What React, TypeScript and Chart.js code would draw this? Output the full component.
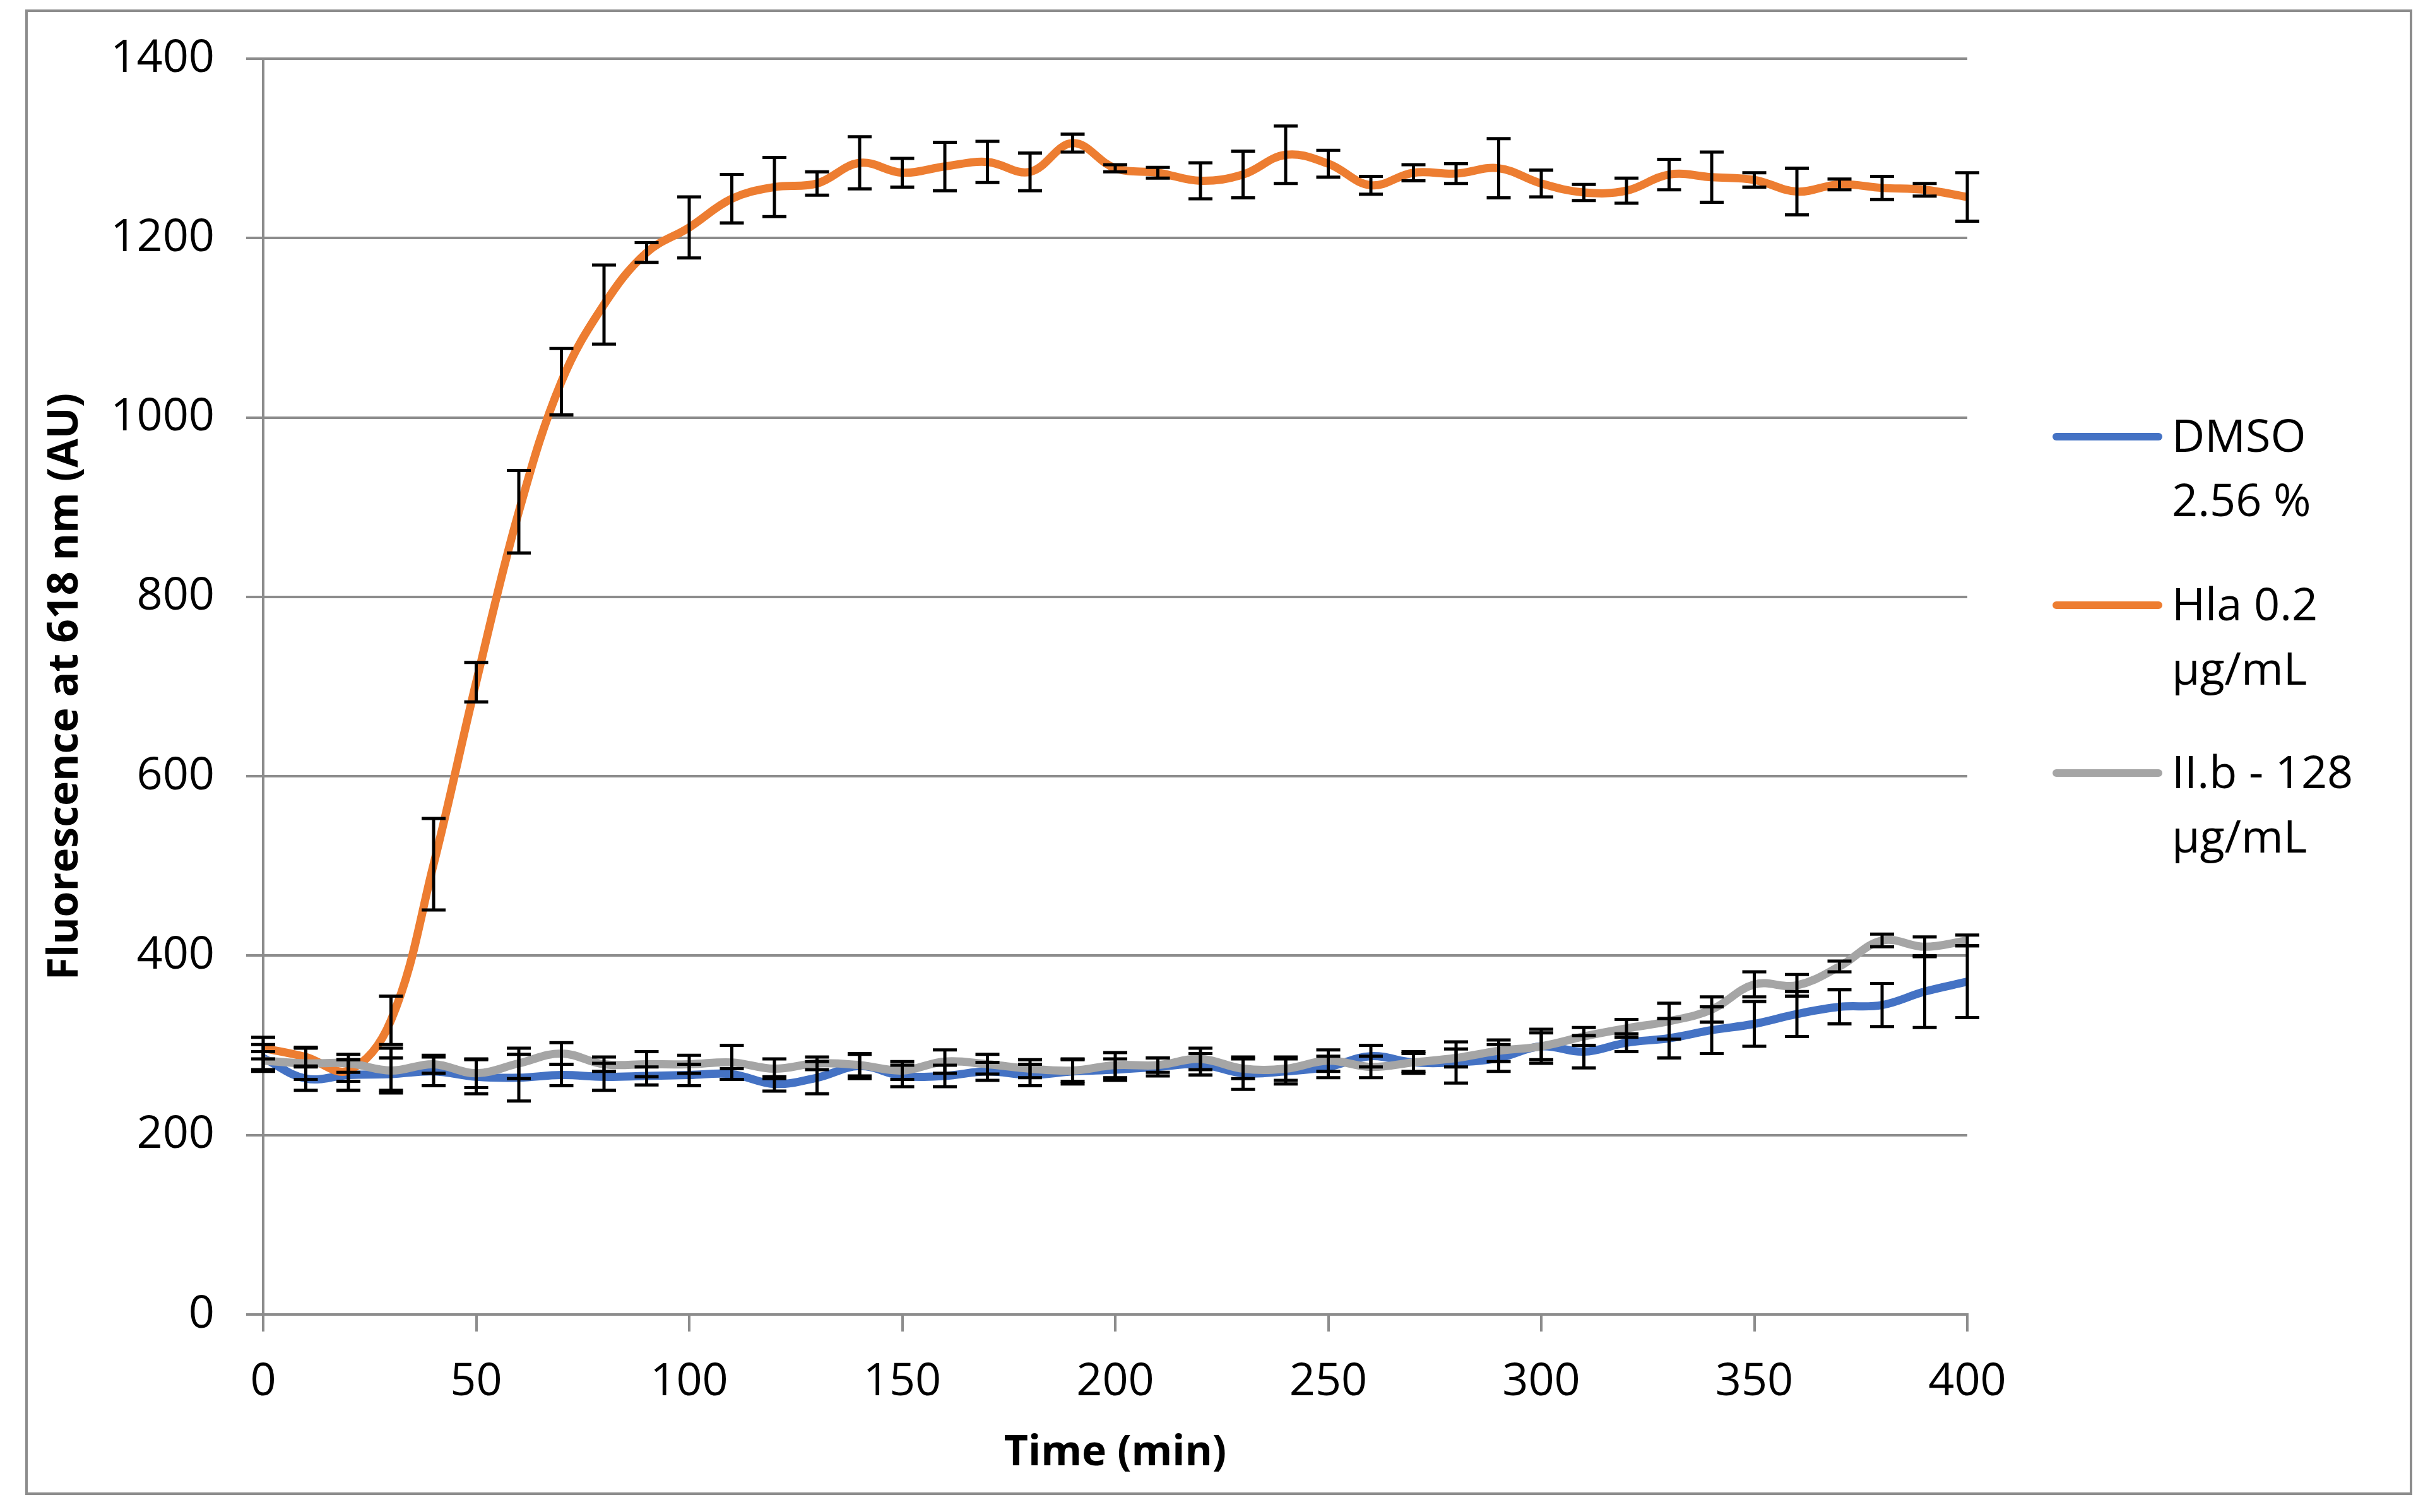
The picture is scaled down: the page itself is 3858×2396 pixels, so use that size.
import React, { useEffect, useRef } from "react";
import { Chart, registerables } from "chart.js";

Chart.register(...registerables);

const TIME_MIN = [0, 10, 20, 30, 40, 50, 60, 70, 80, 90, 100, 110, 120, 130, 140, 150, 160, 170, 180, 190, 200,
  210, 220, 230, 240, 250, 260, 270, 280, 290, 300, 310, 320, 330, 340, 350, 360, 370, 380, 390, 400];

const DMSO = [286, 263, 267, 268, 271, 265, 264, 267, 265, 266, 267, 268, 257, 264, 277, 266, 266, 271, 267, 271, 273,
  276, 279, 269, 271, 276, 288, 281, 281, 286, 299, 293, 303, 308, 317, 324, 335, 343, 345, 360, 371];
const DMSO_ERR = [15, 13, 17, 18, 16, 19, 26, 12, 15, 10, 12, 6, 8, 18, 14, 12, 12, 10, 12, 14, 12,
  10, 12, 18, 14, 12, 12, 12, 23, 15, 19, 18, 10, 22, 26, 25, 25, 19, 24, 40, 40];

const HLA = [297, 287, 272, 328, 502, 705, 895, 1040, 1126, 1184, 1212, 1244, 1257, 1261, 1284, 1273, 1280, 1285, 1274, 1306, 1278,
  1273, 1264, 1271, 1293, 1283, 1259, 1273, 1272, 1278, 1261, 1251, 1253, 1271, 1268, 1265, 1252, 1260, 1256, 1254, 1246];
const HLA_ERR = [12, 10, 12, 27, 51, 22, 46, 37, 44, 11, 34, 27, 33, 13, 29, 16, 27, 23, 21, 10, 4,
  6, 20, 26, 32, 15, 10, 9, 11, 33, 15, 9, 14, 17, 28, 8, 26, 6, 13, 7, 27];

const IIB = [283, 280, 280, 272, 279, 269, 280, 291, 279, 279, 279, 281, 274, 280, 278, 272, 282, 279, 274, 272, 278,
  278, 285, 274, 274, 283, 276, 281, 286, 294, 299, 310, 319, 327, 340, 368, 367, 388, 417, 410, 417];
const IIB_ERR = [10, 18, 10, 25, 10, 16, 17, 12, 8, 14, 10, 19, 11, 7, 12, 10, 13, 11, 10, 12, 14,
  8, 12, 11, 13, 12, 12, 10, 10, 12, 15, 10, 10, 20, 14, 14, 12, 6, 7, 11, 6];

const SERIES_LABELS = ["DMSO 2.56 %", "Hla 0.2 µg/mL", "II.b - 128 µg/mL"];
const LEGEND_LINES = [["DMSO", "2.56 %"], ["Hla 0.2", "µg/mL"], ["II.b - 128", "µg/mL"]];
const COLORS = ["#4472C4", "#ED7D31", "#A5A5A5"];

const X_TITLE = "Time (min)";
const Y_TITLE = "Fluorescence at 618 nm (AU)";

const W = 3858;
const H = 2396;
const GRID = "#8c8c8c";
const FONT = "'Open Sans', sans-serif";

const errorBarPlugin = {
  id: "errorBars",
  afterDatasetsDraw(chart: any) {
    const ctx = chart.ctx;
    const yScale = chart.scales.y;
    const errs = [DMSO_ERR, HLA_ERR, IIB_ERR];
    ctx.save();
    ctx.strokeStyle = "#000000";
    ctx.lineWidth = 5;
    ctx.lineCap = "butt";
    chart.data.datasets.forEach((ds: any, i: number) => {
      const meta = chart.getDatasetMeta(i);
      meta.data.forEach((pt: any, j: number) => {
        const v = ds.data[j].y;
        const e = errs[i][j];
        const x = pt.x;
        const yt = yScale.getPixelForValue(v + e);
        const yb = yScale.getPixelForValue(v - e);
        const cw = 19;
        ctx.beginPath();
        ctx.moveTo(x, yt);
        ctx.lineTo(x, yb);
        ctx.moveTo(x - cw, yt);
        ctx.lineTo(x + cw, yt);
        ctx.moveTo(x - cw, yb);
        ctx.lineTo(x + cw, yb);
        ctx.stroke();
      });
    });
    ctx.restore();
  },
};

const frameLegendPlugin = {
  id: "frameLegend",
  beforeDraw(chart: any) {
    const ctx = chart.ctx;
    ctx.save();
    ctx.fillStyle = "#ffffff";
    ctx.fillRect(0, 0, chart.width, chart.height);
    ctx.strokeStyle = GRID;
    ctx.lineWidth = 4;
    ctx.strokeRect(42, 17, 3778, 2350);
    ctx.restore();
  },
  afterDraw(chart: any) {
    const ctx = chart.ctx;
    ctx.save();
    const ys = [692, 959, 1225];
    chart.data.datasets.forEach((ds: any, i: number) => {
      const y = ys[i];
      ctx.strokeStyle = ds.borderColor;
      ctx.lineWidth = 12;
      ctx.lineCap = "round";
      ctx.beginPath();
      ctx.moveTo(3258, y);
      ctx.lineTo(3420, y);
      ctx.stroke();
      ctx.fillStyle = "#000000";
      ctx.font = `72px ${FONT}`;
      ctx.textAlign = "left";
      ctx.textBaseline = "alphabetic";
      LEGEND_LINES[i].forEach((line, k) => {
        ctx.fillText(line, 3441, y + 24 + k * 102);
      });
    });
    ctx.restore();
  },
};

export default function App() {
  const ref = useRef<HTMLCanvasElement | null>(null);

  useEffect(() => {
    document.body.style.margin = "0";
    const canvas = ref.current;
    if (!canvas) return;
    const mk = (vals: number[]) => vals.map((v, i) => ({ x: TIME_MIN[i], y: v }));
    const seriesVals = [DMSO, HLA, IIB];
    const chart = new Chart(canvas, {
      type: "line",
      data: {
        datasets: seriesVals.map((vals, i) => ({
          label: SERIES_LABELS[i],
          data: mk(vals),
          borderColor: COLORS[i],
          backgroundColor: COLORS[i],
          borderWidth: 13,
          pointRadius: 0,
          tension: 0.38,
          fill: false,
          order: 3 - i,
          borderCapStyle: "round",
          borderJoinStyle: "round",
        })),
      },
      options: {
        animation: false,
        responsive: false,
        devicePixelRatio: 1,
        events: [],
        layout: { padding: { left: 0, top: 93, right: W - 3117, bottom: 0 } },
        plugins: {
          legend: { display: false },
          tooltip: { enabled: false },
        },
        scales: {
          x: {
            type: "linear",
            min: 0,
            max: 400,
            afterFit: (s: any) => { s.height = H - 2083; },
            ticks: {
              stepSize: 50,
              color: "#000000",
              padding: 37,
              font: { family: FONT, size: 72 },
              callback: (v: any) => String(v),
            },
            grid: {
              drawOnChartArea: false,
              drawTicks: true,
              tickLength: 27,
              color: GRID,
              lineWidth: 4,
            },
            border: { display: true, color: GRID, width: 4 },
            title: {
              display: true,
              text: X_TITLE,
              color: "#000000",
              font: { family: FONT, size: 66, weight: "bold" },
              padding: { top: 0, bottom: 53 },
            },
          },
          y: {
            type: "linear",
            min: 0,
            max: 1400,
            afterFit: (s: any) => { s.width = 417; },
            ticks: {
              stepSize: 200,
              color: "#000000",
              padding: 50,
              font: { family: FONT, size: 72 },
              callback: (v: any) => String(v),
            },
            grid: {
              drawTicks: true,
              tickLength: 27,
              color: GRID,
              lineWidth: 4,
            },
            border: { display: true, color: GRID, width: 4 },
            title: {
              display: true,
              text: Y_TITLE,
              color: "#000000",
              font: { family: FONT, size: 66, weight: "bold" },
              padding: { top: 65, bottom: 0 },
            },
          },
        },
      },
      plugins: [frameLegendPlugin, errorBarPlugin],
    } as any);
    return () => chart.destroy();
  }, []);

  return (
    <canvas
      ref={ref}
      width={W}
      height={H}
      style={{ display: "block", width: W + "px", height: H + "px" }}
    />
  );
}
